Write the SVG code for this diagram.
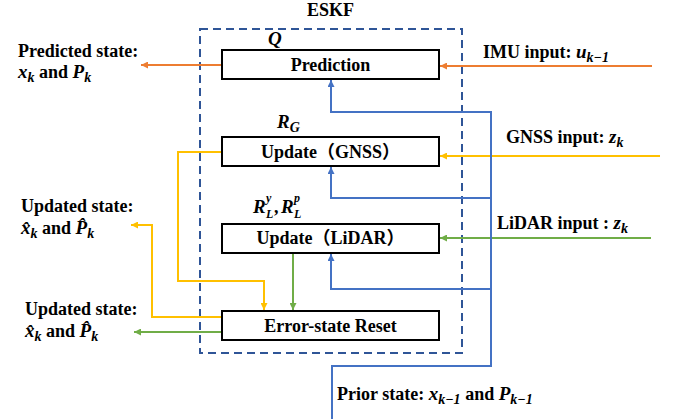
<svg xmlns="http://www.w3.org/2000/svg" width="678" height="419" viewBox="0 0 678 419">
<style>
text{font-family:"Liberation Serif","Noto Sans CJK SC",serif;font-weight:bold;font-size:18px;fill:#000}
.m{font-style:italic;font-size:19px}
.s{font-size:14px;font-style:italic}
.t{font-size:12px;font-style:italic}
.box{fill:#fff;stroke:#000;stroke-width:2}
.c{fill:none;stroke-width:2}
.or{stroke:#ED7D31}
.ye{stroke:#FFC000}
.gr{stroke:#70AD47}
.bl{stroke:#4472C4}
</style>
<defs>
<marker id="ao" viewBox="0 0 10 10" refX="10" refY="5" markerWidth="7" markerHeight="7" markerUnits="userSpaceOnUse" orient="auto"><path d="M0,0L10,5L0,10z" fill="#ED7D31"/></marker>
<marker id="ay" viewBox="0 0 10 10" refX="10" refY="5" markerWidth="7" markerHeight="7" markerUnits="userSpaceOnUse" orient="auto"><path d="M0,0L10,5L0,10z" fill="#FFC000"/></marker>
<marker id="ag" viewBox="0 0 10 10" refX="10" refY="5" markerWidth="7" markerHeight="7" markerUnits="userSpaceOnUse" orient="auto"><path d="M0,0L10,5L0,10z" fill="#70AD47"/></marker>
<marker id="ab" viewBox="0 0 10 10" refX="10" refY="5" markerWidth="7" markerHeight="7" markerUnits="userSpaceOnUse" orient="auto"><path d="M0,0L10,5L0,10z" fill="#4472C4"/></marker>
</defs>
<rect width="678" height="419" fill="#fff"/>
<g id="eskf">
<rect x="200" y="29" width="262" height="324" fill="none" stroke="#2F5597" stroke-width="2" stroke-dasharray="8,5"/>
<text x="307" y="16">ESKF</text>
</g>
<g id="connectors">
<path class="c or" d="M652,66H440" marker-end="url(#ao)"/>
<path class="c or" d="M222,65H141" marker-end="url(#ao)"/>
<path class="c ye" d="M660,156H440" marker-end="url(#ay)"/>
<path class="c gr" d="M651,238H440" marker-end="url(#ag)"/>
<path class="c bl" d="M332,419V366H491V112H331V80" marker-end="url(#ab)"/>
<path class="c bl" d="M491,198H331V167" marker-end="url(#ab)"/>
<path class="c bl" d="M491,289H331V254" marker-end="url(#ab)"/>
<path class="c ye" d="M222,152H178V281H264V310" marker-end="url(#ay)"/>
<path class="c ye" d="M222,317H152V225H131" marker-end="url(#ay)"/>
<path class="c gr" d="M293,254V310" marker-end="url(#ag)"/>
<path class="c gr" d="M222,332H134" marker-end="url(#ag)"/>
</g>
<g id="prediction">
<rect class="box" x="222" y="50" width="217" height="29"/>
<text x="330.5" y="71" text-anchor="middle">Prediction</text>
<text class="m" x="268" y="45">Q</text>
</g>
<g id="update-gnss">
<rect class="box" x="222" y="137" width="217" height="29"/>
<text x="330.5" y="158" text-anchor="middle">Update（GNSS）</text>
<text x="277" y="128"><tspan class="m">R</tspan><tspan class="s" dy="4">G</tspan></text>
</g>
<g id="update-lidar">
<rect class="box" x="222" y="224" width="217" height="29"/>
<text x="330.5" y="244" text-anchor="middle">Update（LiDAR）</text>
<text class="m" x="253" y="213">R</text>
<text class="t" x="266" y="202">y</text>
<text class="t" x="266" y="218">L</text>
<text x="274" y="213">,</text>
<text class="m" x="281" y="213">R</text>
<text class="t" x="294" y="202">p</text>
<text class="t" x="294" y="218">L</text>
</g>
<g id="error-reset">
<rect class="box" x="222" y="311" width="217" height="29"/>
<text x="330.5" y="332" text-anchor="middle">Error-state Reset</text>
</g>
<g id="labels">
<text x="18" y="57">Predicted state:</text>
<text x="18" y="78"><tspan class="m">x</tspan><tspan class="s" dy="4">k</tspan><tspan dy="-4"> and </tspan><tspan class="m">P</tspan><tspan class="s" dy="4">k</tspan></text>
<text x="483" y="58">IMU input: <tspan class="m">u</tspan><tspan class="s" dy="4">k−1</tspan></text>
<text x="506" y="143">GNSS input: <tspan class="m">z</tspan><tspan class="s" dy="4">k</tspan></text>
<text x="497" y="229">LiDAR input : <tspan class="m">z</tspan><tspan class="s" dy="4">k</tspan></text>
<text x="21" y="212">Updated state:</text>
<text x="21" y="234"><tspan class="m">x̂</tspan><tspan class="s" dy="4">k</tspan><tspan dy="-4"> and </tspan><tspan class="m">P̂</tspan><tspan class="s" dy="4">k</tspan></text>
<text x="25" y="315">Updated state:</text>
<text x="25" y="337"><tspan class="m">x̂</tspan><tspan class="s" dy="4">k</tspan><tspan dy="-4"> and </tspan><tspan class="m">P̂</tspan><tspan class="s" dy="4">k</tspan></text>
<text x="337" y="400">Prior state:  <tspan class="m">x</tspan><tspan class="s" dy="4">k−1</tspan><tspan dy="-4"> and </tspan><tspan class="m">P</tspan><tspan class="s" dy="4">k−1</tspan></text>
</g>
</svg>
